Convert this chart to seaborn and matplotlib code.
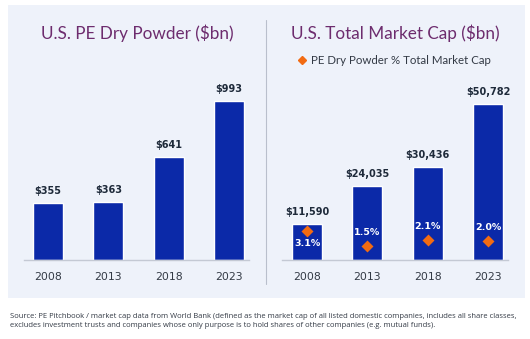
import matplotlib
matplotlib.use("Agg")
import matplotlib.pyplot as plt
from matplotlib.patches import Rectangle
from matplotlib.lines import Line2D
import seaborn as sns
import pandas as pd

years = ["2008", "2013", "2018", "2023"]
dry_powder = [355, 363, 641, 993]
market_cap = [11590, 24035, 30436, 50782]
pct_of_cap = [3.1, 1.5, 2.1, 2.0]

title_left = "U.S. PE Dry Powder ($bn)"
title_right = "U.S. Total Market Cap ($bn)"
legend_label = "PE Dry Powder % Total Market Cap"
source = ("Source: PE Pitchbook / market cap data from World Bank (defined as the market cap of all listed domestic companies, includes all share classes,\n"
          "excludes investment trusts and companies whose only purpose is to hold shares of other companies (e.g. mutual funds).")

BAR = "#0B29A8"
ORANGE = "#F26B12"
PANEL = "#EEF2FA"
PURPLE = "#6D2C6E"
DARK = "#1E2A3A"
GREY = "#333A45"

sns.set_theme(style="white")
plt.rcParams["font.family"] = ["DejaVu Sans"]

W, H = 530, 339
fig = plt.figure(figsize=(W / 100, H / 100), dpi=100)
fig.patch.set_facecolor("white")

def fx(px):
    return px / W

def fy(py):
    return 1 - py / H

# light panel behind both charts and the divider between them
fig.patches.append(Rectangle((fx(8), fy(298)), fx(517), 293 / H, transform=fig.transFigure,
                             facecolor=PANEL, edgecolor="none", zorder=-10))
fig.lines.append(Line2D([fx(266), fx(266)], [fy(284), fy(20)], transform=fig.transFigure,
                        color="#B9BFCC", lw=0.8, zorder=-5))

BASE, TOP = 260, 60

def make_axes(left, right):
    ax = fig.add_axes([fx(left), fy(BASE), fx(right - left), (BASE - TOP) / H])
    ax.set_facecolor("none")
    return ax

def style(ax, lo, hi):
    ax.set_xlim(lo, hi)
    for s in ["top", "right", "left"]:
        ax.spines[s].set_visible(False)
    ax.spines["bottom"].set_color("#C4C9D4")
    ax.spines["bottom"].set_linewidth(1.0)
    ax.set_yticks([])
    ax.set_xlabel("")
    ax.set_ylabel("")
    ax.tick_params(axis="x", length=0, pad=9, labelsize=7.8, labelcolor=GREY)

# left: dry powder
df_l = pd.DataFrame({"year": years, "value": dry_powder})
axl = make_axes(24, 249)
sns.barplot(data=df_l, x="year", y="value", color=BAR, width=0.5, saturation=1, ax=axl)
axl.set_ylim(0, 1249)
style(axl, -0.397, 3.33)
for i, v in enumerate(dry_powder):
    axl.annotate(f"${v:,}", (i, v), xytext=(0, 5), textcoords="offset points",
                 ha="center", va="bottom", fontsize=7, fontweight="bold", color=DARK)

# right: market cap with dry powder share
df_r = pd.DataFrame({"year": years, "value": market_cap, "pct": pct_of_cap})
axr = make_axes(282, 508)
sns.barplot(data=df_r, x="year", y="value", color=BAR, width=0.5, saturation=1, ax=axr)
axr.set_ylim(0, 65105)
style(axr, -0.415, 3.33)
for i, v in enumerate(market_cap):
    axr.annotate(f"${v:,}", (i, v), xytext=(0, 5), textcoords="offset points",
                 ha="center", va="bottom", fontsize=7, fontweight="bold", color=DARK)

axp = axr.twinx()
sns.pointplot(data=df_r, x="year", y="pct", color=ORANGE, marker="D", markersize=3.8,
              linestyle="none", ax=axp)
axp.set_ylim(0, 21.05)
axp.set_xlim(-0.415, 3.33)
axp.set_yticks([])
axp.set_ylabel("")
for s in axp.spines.values():
    s.set_visible(False)
for i, p in enumerate(pct_of_cap):
    below = p == max(pct_of_cap)
    axp.annotate(f"{p:.1f}%", (i, p), xytext=(0, -9.5 if below else 9.5), textcoords="offset points",
                 ha="center", va="center", fontsize=6.8, fontweight="bold", color="white")

# titles and legend
fig.text(fx(137), fy(33), title_left, ha="center", va="center", fontsize=12.3,
         color=PURPLE, family="Lato")
fig.text(fx(395), fy(33), title_right, ha="center", va="center", fontsize=12.3,
         color=PURPLE, family="Lato")
fig.lines.append(Line2D([fx(302)], [fy(60)], transform=fig.transFigure, marker="D",
                        markersize=4.2, color=ORANGE, linestyle="none"))
fig.text(fx(311), fy(60), legend_label, ha="left", va="center", fontsize=8.3,
         color=GREY, family="Lato")

fig.text(fx(10), fy(321), source, ha="left", va="center", fontsize=5.5,
         color=GREY, family="Open Sans", linespacing=1.5)

fig.savefig("out.png", dpi=100)
